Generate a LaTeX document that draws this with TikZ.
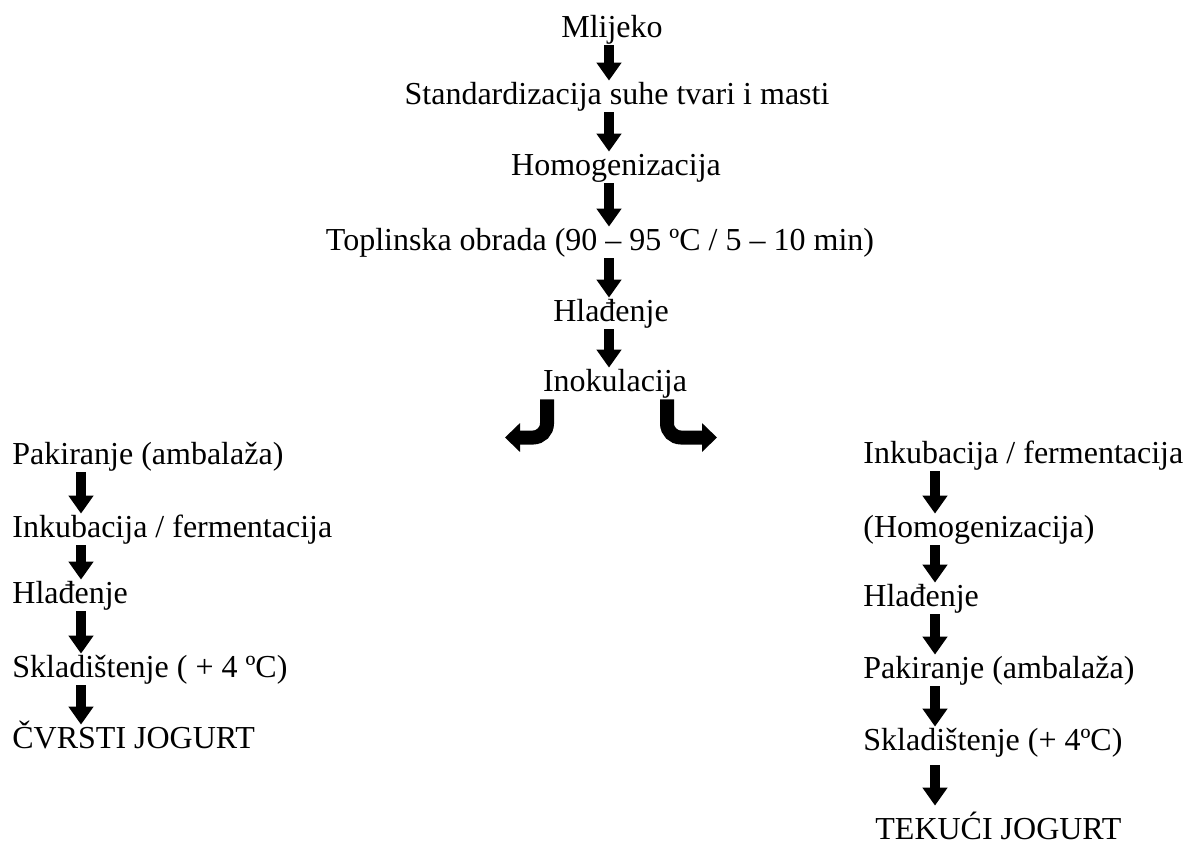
\documentclass[tikz,border=0pt]{standalone}
\usepackage{fontspec}
\setmainfont{Liberation Serif}
\usetikzlibrary{arrows.meta}

\begin{document}
\begin{tikzpicture}[x=0.5pt, y=-0.5pt,
        korak/.style={inner sep=0pt, text height=11.5pt, text depth=4pt, font=\fontsize{16}{19}\selectfont},
        strelica/.style={line width=5pt, -{Triangle[width=12pt,length=9pt]}},
        zavoj/.style={line width=7pt, rounded corners=7pt, -{Triangle[width=14pt,length=7.5pt]}}]
                \useasboundingbox (0,0) rectangle (1184,843);
                % glavni tok
                \node [korak, anchor=base] (mlijeko) at (612,37) {Mlijeko};
                \node [korak, anchor=base] (std) at (617,104) {Standardizacija suhe tvari i masti};
                \node [korak, anchor=base] (homo) at (616,175) {Homogenizacija};
                \node [korak, anchor=base] (topl) at (600,250) {Toplinska obrada (90 – 95 ºC / 5 – 10 min)};
                \node [korak, anchor=base] (hlad) at (611,321) {Hlađenje};
                \node [korak, anchor=base] (inok) at (615,391) {Inokulacija};
                \coordinate (sred) at (609,0);
                \draw [strelica] (mlijeko.south -| sred) -- (std.north -| sred);
                \draw [strelica] (std.south -| sred) -- (homo.north -| sred);
                \draw [strelica] (homo.south -| sred) -- (topl.north -| sred);
                \draw [strelica] (topl.south -| sred) -- (hlad.north -| sred);
                \draw [strelica] (hlad.south -| sred) -- (inok.north -| sred);
                % grananje
                \coordinate (lkraj) at (505,437.5);
                \coordinate (dkraj) at (717,437.5);
                \draw [zavoj] (inok.south -| 547,0) |- (lkraj);
                \draw [zavoj] (inok.south -| 667,0) |- (dkraj);
                % cvrsti jogurt
                \node [korak, anchor=base west] (lpak) at (12,464) {Pakiranje (ambalaža)};
                \node [korak, anchor=base west] (link) at (12,537) {Inkubacija / fermentacija};
                \node [korak, anchor=base west] (lhlad) at (12,603) {Hlađenje};
                \node [korak, anchor=base west] (lskl) at (12,677) {Skladištenje ( + 4 ºC)};
                \node [korak, anchor=base west] (cvrsti) at (12,748) {ČVRSTI JOGURT};
                \coordinate (lijevo) at (81,0);
                \draw [strelica] (lpak.south -| lijevo) -- (link.north -| lijevo);
                \draw [strelica] (link.south -| lijevo) -- (lhlad.north -| lijevo);
                \draw [strelica] (lhlad.south -| lijevo) -- (lskl.north -| lijevo);
                \draw [strelica] (lskl.south -| lijevo) -- (cvrsti.north -| lijevo);
                % tekuci jogurt
                \node [korak, anchor=base west] (dink) at (863,463) {Inkubacija / fermentacija};
                \node [korak, anchor=base west] (dhomo) at (863,537) {(Homogenizacija)};
                \node [korak, anchor=base west] (dhlad) at (863,606) {Hlađenje};
                \node [korak, anchor=base west] (dpak) at (863,678) {Pakiranje (ambalaža)};
                \node [korak, anchor=base west] (dskl) at (863,750) {Skladištenje (+ 4ºC)};
                \node [korak, anchor=base west] (tekuci) at (875,839) {TEKUĆI JOGURT};
                \coordinate (desno) at (935,0);
                \draw [strelica] (dink.south -| desno) -- (dhomo.north -| desno);
                \draw [strelica] (dhomo.south -| desno) -- (dhlad.north -| desno);
                \draw [strelica] (dhlad.south -| desno) -- (dpak.north -| desno);
                \draw [strelica] (dpak.south -| desno) -- (dskl.north -| desno);
                \draw [strelica, shorten <=3.5pt, shorten >=5pt] (dskl.south -| desno) -- (tekuci.north -| desno);
\end{tikzpicture}
\end{document}
